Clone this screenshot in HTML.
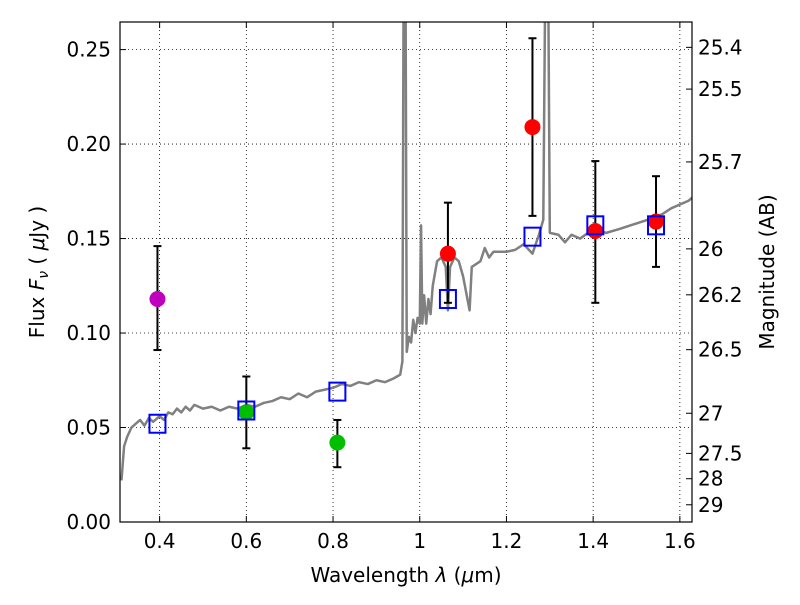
<!DOCTYPE html>
<html><head><meta charset="utf-8"><style>
body{margin:0;background:#fff}
svg text{font-family:"DejaVu Sans","Liberation Sans",sans-serif;font-size:20px;fill:#000}
</style></head><body>
<svg id="chart" width="800" height="600" xmlns="http://www.w3.org/2000/svg">
<defs><clipPath id="clip"><rect x="120" y="22" width="572" height="500"/></clipPath></defs>
<rect x="0" y="0" width="800" height="600" fill="#fff"/>
<g id="grid"></g>
<g id="spec" clip-path="url(#clip)"></g>
<g id="marks" clip-path="url(#clip)"></g>
<rect x="120" y="22" width="572" height="500" fill="none" stroke="#000" stroke-width="1.2"/>
<g id="ticks"></g>
<text x="406" y="582" text-anchor="middle">Wavelength  <tspan font-style="italic">λ</tspan> (<tspan font-style="italic">μ</tspan>m)</text>
<text transform="translate(44,272) rotate(-90)" text-anchor="middle">Flux  <tspan font-style="italic">F</tspan><tspan font-style="italic" font-size="14" dy="4">ν</tspan><tspan dy="-4">  (  </tspan><tspan font-style="italic">μ</tspan>Jy )</text>
<text transform="translate(774,272) rotate(-90)" text-anchor="middle">Magnitude (AB)</text>
</svg>
<script>
const xTicks=[0.4,0.6,0.8,1.0,1.2,1.4,1.6];
const xTickLabels=["0.4","0.6","0.8","1","1.2","1.4","1.6"];
const yTicks=[0,0.05,0.10,0.15,0.20,0.25];
const yTickLabels=["0.00","0.05","0.10","0.15","0.20","0.25"];
const magTicks=[25.4,25.5,25.7,26,26.2,26.5,27,27.5,28,29];
const specLam=[0.312,0.318,0.325,0.335,0.345,0.355,0.365,0.375,0.385,0.40,0.41,0.42,0.43,0.44,0.45,0.46,0.47,0.48,0.50,0.52,0.54,0.56,0.58,0.60,0.62,0.64,0.66,0.68,0.70,0.72,0.74,0.76,0.78,0.80,0.82,0.84,0.86,0.88,0.90,0.92,0.94,0.955,0.96,0.963,0.967,0.970,0.975,0.98,0.985,0.99,0.995,1.0,1.003,1.006,1.01,1.015,1.02,1.025,1.03,1.04,1.05,1.06,1.065,1.07,1.08,1.09,1.10,1.115,1.12,1.14,1.15,1.16,1.17,1.20,1.22,1.24,1.26,1.275,1.285,1.29,1.296,1.30,1.32,1.335,1.35,1.37,1.40,1.43,1.46,1.50,1.54,1.56,1.58,1.60,1.62,1.63];
const specFlux=[0.022,0.040,0.045,0.050,0.052,0.054,0.051,0.055,0.053,0.056,0.054,0.058,0.057,0.060,0.058,0.061,0.059,0.062,0.060,0.061,0.059,0.061,0.060,0.062,0.061,0.063,0.064,0.066,0.065,0.068,0.066,0.069,0.070,0.071,0.073,0.072,0.074,0.073,0.075,0.074,0.076,0.078,0.085,0.30,0.30,0.09,0.098,0.095,0.107,0.100,0.108,0.105,0.157,0.105,0.120,0.105,0.118,0.110,0.125,0.138,0.140,0.135,0.112,0.135,0.140,0.138,0.130,0.112,0.135,0.138,0.145,0.140,0.143,0.143,0.144,0.147,0.142,0.152,0.160,0.30,0.30,0.153,0.152,0.148,0.152,0.150,0.155,0.153,0.155,0.158,0.161,0.163,0.166,0.168,0.170,0.172];
const obsLam=[0.395,0.60,0.81,1.065,1.26,1.405,1.545];
const obsFlux=[0.118,0.058,0.042,0.142,0.209,0.154,0.159];
const obsLo=[0.091,0.039,0.029,0.116,0.162,0.116,0.135];
const obsHi=[0.146,0.077,0.054,0.169,0.256,0.191,0.183];
const obsColor=["#bf00bf","#00bf00","#00bf00","#ff0000","#ff0000","#ff0000","#ff0000"];
const modelFlux=[0.052,0.059,0.069,0.118,0.151,0.157,0.157];

const X0=120,X1=692,Y0=522,Y1=22,xmin=0.3086,xmax=1.628,ymin=0,ymax=0.2646;
const sx=v=>X0+(v-xmin)/(xmax-xmin)*(X1-X0);
const sy=v=>Y0-(v-ymin)/(ymax-ymin)*(Y0-Y1);
const NS="http://www.w3.org/2000/svg";
function mk(parent,tag,attrs){const e=document.createElementNS(NS,tag);for(const k in attrs)e.setAttribute(k,attrs[k]);parent.appendChild(e);return e;}
const grid=document.getElementById('grid'),ticks=document.getElementById('ticks');
xTicks.forEach((t,i)=>{const x=sx(t);
 const g=mk(grid,'line',{x1:x,x2:x,y1:Y1,y2:Y0,stroke:'#000','stroke-width':0.8,'stroke-dasharray':'1,3'});
 
 mk(ticks,'line',{x1:x,x2:x,y1:Y0,y2:Y0-6,stroke:'#000'});mk(ticks,'line',{x1:x,x2:x,y1:Y1,y2:Y1+6,stroke:'#000'});
 const l=mk(ticks,'text',{x:x,y:Y0+26,'text-anchor':'middle'});l.textContent=xTickLabels[i];
 });
yTicks.forEach((t,i)=>{const y=sy(t);
 const g=mk(grid,'line',{x1:X0,x2:X1,y1:y,y2:y,stroke:'#000','stroke-width':0.8,'stroke-dasharray':'1,3'});
 
 mk(ticks,'line',{x1:X0,x2:X0+6,y1:y,y2:y,stroke:'#000'});
 const l=mk(ticks,'text',{x:X0-9,y:y+7,'text-anchor':'end'});l.textContent=yTickLabels[i];
 });
magTicks.forEach(m=>{const f=Math.pow(10,(23.9-m)/2.5);const y=sy(f);
 mk(ticks,'line',{x1:X1-6,x2:X1,y1:y,y2:y,stroke:'#000'});
 const l=mk(ticks,'text',{x:X1+6,y:y+7});l.textContent=String(m);
 });
const spec=document.getElementById('spec');
const p=mk(spec,'polyline',{points:specLam.map((l,i)=>sx(l)+','+sy(specFlux[i])).join(' '),fill:'none',stroke:'#808080','stroke-width':2.5,'stroke-linejoin':'round'});

const marks=document.getElementById('marks');
obsLam.forEach((l,i)=>{const x=sx(l);
 const e=mk(marks,'g',{});
 mk(e,'line',{x1:x,x2:x,y1:sy(obsLo[i]),y2:sy(obsHi[i]),stroke:'#000','stroke-width':2});
 mk(e,'line',{x1:x-4,x2:x+4,y1:sy(obsLo[i]),y2:sy(obsLo[i]),stroke:'#000','stroke-width':2});
 mk(e,'line',{x1:x-4,x2:x+4,y1:sy(obsHi[i]),y2:sy(obsHi[i]),stroke:'#000','stroke-width':2});
 const c=mk(marks,'circle',{cx:x,cy:sy(obsFlux[i]),r:8,fill:obsColor[i]});
 
 const s=mk(marks,'rect',{x:x-8,y:sy(modelFlux[i])-9,width:16,height:18,fill:'none',stroke:'#0000ff','stroke-width':2});
 });
</script>
</body></html>
